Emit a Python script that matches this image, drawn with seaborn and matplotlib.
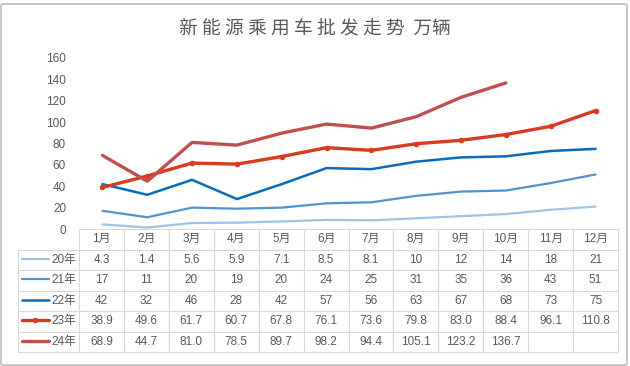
import matplotlib
matplotlib.use("Agg")
import matplotlib.pyplot as plt
import seaborn as sns
import pandas as pd
from matplotlib.lines import Line2D
from matplotlib.patches import FancyBboxPatch

# data
months = ["1月", "2月", "3月", "4月", "5月", "6月", "7月", "8月", "9月", "10月", "11月", "12月"]
series_names = ["20年", "21年", "22年", "23年", "24年"]
y20 = [4.3, 1.4, 5.6, 5.9, 7.1, 8.5, 8.1, 10, 12, 14, 18, 21]
y21 = [17, 11, 20, 19, 20, 24, 25, 31, 35, 36, 43, 51]
y22 = [42, 32, 46, 28, 42, 57, 56, 63, 67, 68, 73, 75]
y23 = [38.9, 49.6, 61.7, 60.7, 67.8, 76.1, 73.6, 79.8, 83.0, 88.4, 96.1, 110.8]
y24 = [68.9, 44.7, 81.0, 78.5, 89.7, 98.2, 94.4, 105.1, 123.2, 136.7]
# table text as shown (one decimal for 23/24)
t20 = ["4.3", "1.4", "5.6", "5.9", "7.1", "8.5", "8.1", "10", "12", "14", "18", "21"]
t21 = ["17", "11", "20", "19", "20", "24", "25", "31", "35", "36", "43", "51"]
t22 = ["42", "32", "46", "28", "42", "57", "56", "63", "67", "68", "73", "75"]
t23 = ["38.9", "49.6", "61.7", "60.7", "67.8", "76.1", "73.6", "79.8", "83.0", "88.4", "96.1", "110.8"]
t24 = ["68.9", "44.7", "81.0", "78.5", "89.7", "98.2", "94.4", "105.1", "123.2", "136.7", "", ""]

colors = ["#9DC3E6", "#5094CF", "#0A6CB8", "#D83B1E", "#C0504D"]
widths = [1.6, 1.6, 1.8, 2.4, 2.4]

sns.set_style("white")
plt.rcParams["font.family"] = ["Liberation Sans", "Noto Sans CJK SC", "DejaVu Sans"]
text_col = "#595959"

W, H = 630, 366
fig = plt.figure(figsize=(W / 100, H / 100), dpi=100)

# plot area in pixels: x 80..618, y 58..229
ax = fig.add_axes([80 / W, 1 - 229 / H, 538 / W, 171 / H])

rows = []
for name, vals in zip(series_names, [y20, y21, y22, y23, y24]):
    for i, v in enumerate(vals):
        rows.append({"series": name, "m": i, "value": v})
df = pd.DataFrame(rows)

for k, name in enumerate(series_names):
    sub = df[df["series"] == name]
    sns.lineplot(data=sub, x="m", y="value", ax=ax, color=colors[k],
                 linewidth=widths[k], marker="o" if name == "23年" else None,
                 markersize=4, markeredgewidth=0, legend=False)

ax.set_xlim(-0.5, 11.5)
ax.set_ylim(0, 160)
ax.set_yticks(range(0, 161, 20))
ax.set_xticks([])
ax.set_xlabel("")
ax.set_ylabel("")
ax.tick_params(axis="y", length=0, pad=10, labelsize=8.5, labelcolor=text_col)
for s in ax.spines.values():
    s.set_visible(False)

# data table below the plot
cell_text = [[n] + t for n, t in zip(series_names, [t20, t21, t22, t23, t24])]
label_w = 61
col_w = 538 / 12
tbl = ax.table(cellText=cell_text, colLabels=[""] + months,
               colWidths=[label_w / 600] + [col_w / 600] * 12,
               cellLoc="center",
               bbox=[(18 - 80) / 538, (229 - 352) / 171, 600 / 538, 123 / 171])
tbl.auto_set_font_size(False)
tbl.set_fontsize(8.5)
for (r, c), cell in tbl.get_celld().items():
    cell.set_edgecolor("#D9D9D9")
    cell.set_linewidth(0.8)
    cell.get_text().set_color(text_col)
    if r == 0 and c == 0:
        cell.visible_edges = ""
    if c == 0 and r > 0:
        cell._loc = "right"
        cell.PAD = 0.04
        cell.get_text().set_horizontalalignment("right")

# legend keys inside the label cells
row_h = 123 / 6
for k in range(5):
    yc = 248 + row_h * (k + 0.5) + 0.5
    key = Line2D([22 / W, 49 / W], [1 - yc / H, 1 - yc / H], transform=fig.transFigure,
                 color=colors[k], linewidth=widths[k])
    fig.add_artist(key)
    if series_names[k] == "23年":
        fig.add_artist(Line2D([35 / W], [1 - yc / H], transform=fig.transFigure,
                              color=colors[k], marker="o", markersize=4,
                              markeredgewidth=0, linestyle="none"))

fig.text(0.5, 1 - 28 / H, "新 能 源 乘 用 车 批 发 走 势  万辆", ha="center", va="center",
         fontsize=13.5, color=text_col, family=["Noto Sans CJK SC"], weight="medium")

fig.add_artist(FancyBboxPatch((1 / W, 1 / H), 1 - 4 / W, 1 - 5 / H,
                              boxstyle="round,pad=0,rounding_size=0.004",
                              transform=fig.transFigure, facecolor="none",
                              edgecolor="#BFBFBF", linewidth=1.2))

fig.savefig("out.png", dpi=100)
